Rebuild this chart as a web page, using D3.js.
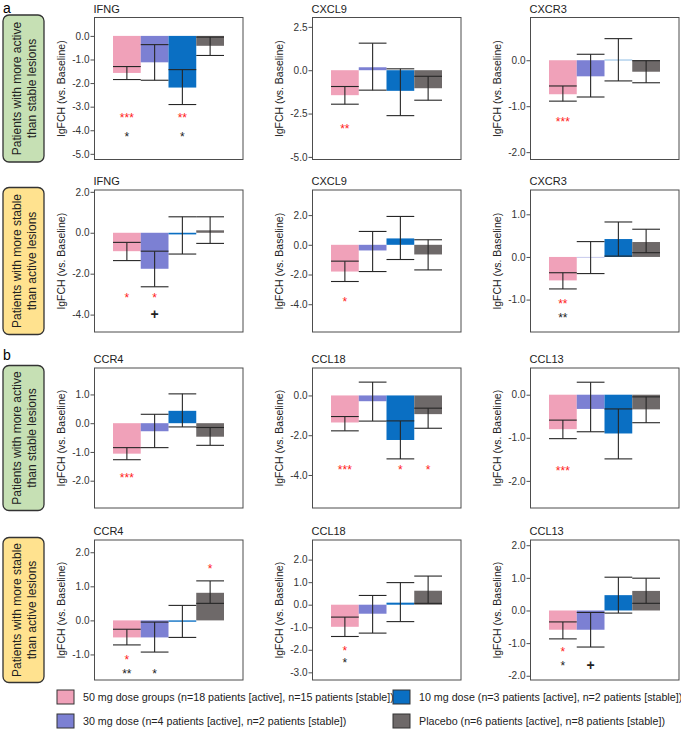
<!DOCTYPE html>
<html>
<head>
<meta charset="utf-8">
<script src="https://cdn.jsdelivr.net/npm/d3@7"></script>
<style>
  body { margin: 0; background: #fff; }
  text { font-family: Arial, "Liberation Sans", sans-serif; }
</style>
</head>
<body>
<svg id="chart" width="681" height="741"></svg>
<script>
// dose groups, in the order they are drawn inside each panel
const groups = ["50 mg", "30 mg", "10 mg", "Placebo"];
const groupColors = ["#f0a1b9", "#7c80d3", "#0a6fc3", "#6e6969"];
const legendLabels = [
    "50 mg dose groups (n=18 patients [active], n=15 patients [stable])",
    "30 mg dose (n=4 patients [active], n=2 patients [stable])",
    "10 mg dose (n=3 patients [active], n=2 patients [stable])",
    "Placebo (n=6 patients [active], n=8 patients [stable])"
];

// panels, row by row (3 per row)
const genes = ["IFNG", "CXCL9", "CXCR3",
               "IFNG", "CXCL9", "CXCR3",
               "CCR4", "CCL18", "CCL13",
               "CCR4", "CCL18", "CCL13"];
const rowLabels = [
    ["Patients with more active", "than stable lesions"],
    ["Patients with more stable", "than active lesions"],
    ["Patients with more active", "than stable lesions"],
    ["Patients with more stable", "than active lesions"]
];
const rowColors = ["#c6e0b4", "#ffe28f", "#c6e0b4", "#ffe28f"];

const yDomains = [
    [-5.24, 0.78], [-5.15, 3.04], [-2.16, 0.93],
    [-4.85, 2.09], [-5.87, 3.69], [-1.76, 1.57],
    [-2.95, 1.92], [-5.66, 1.38], [-2.63, 0.62],
    [-1.75, 2.36], [-3.34, 2.87], [-2.13, 2.16]
];
const yTicks = [
    [0, -1, -2, -3, -4, -5], [2.5, 0, -2.5, -5], [0, -1, -2],
    [2, 0, -2, -4], [2, 0, -2, -4], [1, 0, -1],
    [1, 0, -1, -2], [0, -2, -4], [0, -1, -2],
    [2, 1, 0, -1], [2, 1, 0, -1, -2, -3], [2, 1, 0, -1, -2]
];

// box height (from 0) for each group, per panel
const barValues = [
    [-1.57, -1.12, -2.19, -0.42], [-1.44, 0.17, -1.19, -1.04], [-0.74, -0.35, 0.01, -0.25],
    [-0.90, -1.76, -0.08, 0.12], [-1.80, -0.38, 0.43, -0.65], [-0.55, -0.01, 0.42, 0.35],
    [-1.06, -0.28, 0.43, -0.47], [-1.36, -0.29, -2.24, -0.94], [-0.80, -0.33, -0.90, -0.34],
    [-0.50, -0.50, -0.04, 0.81], [-0.98, -0.40, 0.09, 0.62], [-0.59, -0.59, 0.47, 0.60]
];
// interval drawn with a cap at each end
const errLow = [
    [-1.85, -1.88, -2.91, -0.83], [-1.96, -1.15, -2.62, -1.73], [-0.89, -0.80, -0.45, -0.49],
    [-1.36, -2.64, -1.04, -0.52], [-2.47, -1.80, -0.99, -1.69], [-0.75, -0.39, 0.02, 0.10],
    [-1.27, -0.85, -0.13, -0.77], [-1.78, -1.29, -3.19, -1.65], [-1.02, -0.86, -1.49, -0.65],
    [-0.72, -0.93, -0.50, 0.50], [-1.41, -1.26, -0.75, 0.06], [-0.87, -1.12, -0.08, 0.22]
];
const errHigh = [
    [-1.30, -0.37, -1.43, -0.05], [-0.94, 1.56, 0.08, -0.35], [-0.56, 0.13, 0.47, -0.01],
    [-0.47, -0.90, 0.78, 0.78], [-1.10, 0.90, 1.91, 0.34], [-0.37, 0.36, 0.82, 0.65],
    [-0.85, 0.31, 1.02, -0.15], [-1.06, 0.67, -1.28, -0.64], [-0.59, 0.29, -0.33, -0.05],
    [-0.26, -0.05, 0.44, 1.16], [-0.55, 0.41, 0.98, 1.27], [-0.35, -0.06, 1.02, 0.99]
];

// significance marks: [panel, group, value, symbol, colour]
const marks = [
    [0, 0, -3.40, "***", "red"], [0, 0, -4.21, "*", "black"],
    [0, 2, -3.40, "**", "red"], [0, 2, -4.21, "*", "black"],
    [1, 0, -3.30, "**", "red"],
    [2, 0, -1.29, "***", "red"],
    [3, 0, -3.10, "*", "red"], [3, 1, -3.10, "*", "red"], [3, 1, -4.00, "+", "black"],
    [4, 0, -3.69, "*", "red"],
    [5, 0, -1.05, "**", "red"], [5, 0, -1.38, "**", "black"],
    [6, 0, -1.83, "***", "red"],
    [7, 0, -3.66, "***", "red"], [7, 2, -3.66, "*", "red"], [7, 3, -3.66, "*", "red"],
    [8, 0, -1.73, "***", "red"],
    [9, 0, -1.09, "*", "red"], [9, 0, -1.52, "**", "black"], [9, 1, -1.52, "*", "black"],
    [9, 3, 1.58, "*", "red"],
    [10, 0, -1.95, "*", "red"], [10, 0, -2.51, "*", "black"],
    [11, 0, -1.22, "*", "red"], [11, 0, -1.65, "*", "black"], [11, 1, -1.69, "+", "black"]
];

// layout
const colX = [94.5, 312.5, 530.5];
const rowY = [17.5, 190, 368, 540];
const rowH = [142, 142, 140, 140];
const pWidth = 148.5;

const svg = d3.select("#chart");
const fmt = function(v) { return v.toFixed(1).replace("\u2212", "-"); };

const xScale = d3.scaleBand().domain(groups).range([18.5, 129.5]).padding(0);

// section letters
svg.append("text").attr("x", 3).attr("y", 13).attr("font-size", 14).text("a");
svg.append("text").attr("x", 3).attr("y", 360).attr("font-size", 14).text("b");

// row label boxes
rowLabels.forEach(function(lines, r) {
    let g = svg.append("g");
    g.append("rect")
        .attr("x", 3).attr("y", rowY[r] - 2.5)
        .attr("width", 41).attr("height", rowH[r] + 5)
        .attr("rx", 6).attr("ry", 6)
        .attr("fill", rowColors[r])
        .attr("stroke", "#333").attr("stroke-width", 1.3);
    let cx = 23.5, cy = rowY[r] + rowH[r] / 2;
    g.append("text")
        .attr("transform", "translate(" + cx + "," + cy + ") rotate(-90)")
        .attr("text-anchor", "middle")
        .attr("font-size", 12)
        .attr("fill", "#222")
        .selectAll("tspan")
        .data(lines)
        .enter()
        .append("tspan")
        .attr("x", 0)
        .attr("y", function(d, i) { return i === 0 ? -3 : 12; })
        .text(function(d) { return d; });
});

genes.forEach(function(gene, p) {
    let r = Math.floor(p / 3), c = p % 3;
    let h = rowH[r];
    let y = d3.scaleLinear().domain(yDomains[p]).range([h, 0]);
    let g = svg.append("g").attr("transform", "translate(" + colX[c] + "," + rowY[r] + ")");

    // title
    g.append("text")
        .attr("x", -1).attr("y", -5)
        .attr("font-size", 11)
        .attr("fill", "#222")
        .text(gene);

    // boxes
    g.selectAll("rect.bar")
        .data(barValues[p])
        .enter()
        .append("rect")
        .attr("class", "bar")
        .attr("x", function(d, i) { return xScale(groups[i]); })
        .attr("width", xScale.bandwidth())
        .attr("y", function(d) { return Math.min(y(d), y(0)); })
        .attr("height", function(d) { return Math.abs(y(d) - y(0)); })
        .attr("fill", function(d, i) { return groupColors[i]; });

    // intervals
    let err = g.selectAll("g.err")
        .data(groups)
        .enter()
        .append("g")
        .attr("class", "err")
        .attr("stroke", "#262626")
        .attr("stroke-width", 1.1);
    err.append("line")
        .attr("x1", function(d) { return xScale(d) + xScale.bandwidth() / 2; })
        .attr("x2", function(d) { return xScale(d) + xScale.bandwidth() / 2; })
        .attr("y1", function(d, i) { return y(errLow[p][i]); })
        .attr("y2", function(d, i) { return y(errHigh[p][i]); });
    [errLow, errHigh].forEach(function(arr) {
        err.append("line")
            .attr("x1", function(d) { return xScale(d); })
            .attr("x2", function(d) { return xScale(d) + xScale.bandwidth(); })
            .attr("y1", function(d, i) { return y(arr[p][i]); })
            .attr("y2", function(d, i) { return y(arr[p][i]); });
    });

    // frame
    g.append("rect")
        .attr("width", pWidth).attr("height", h)
        .attr("fill", "none")
        .attr("stroke", "#4d4d4d")
        .attr("stroke-width", 1);

    // y axis
    let axis = g.append("g")
        .call(d3.axisLeft(y).tickValues(yTicks[p]).tickSize(4).tickFormat(fmt));
    axis.select(".domain").remove();
    axis.selectAll("line").attr("stroke", "#4d4d4d");
    axis.selectAll("text")
        .attr("font-family", "Arial, 'Liberation Sans', sans-serif")
        .attr("font-size", 10)
        .attr("fill", "#333")
        .attr("x", -5);

    g.append("text")
        .attr("transform", "translate(-30," + (h / 2) + ") rotate(-90)")
        .attr("text-anchor", "middle")
        .attr("font-size", 10.5)
        .attr("fill", "#222")
        .text("lgFCH (vs. Baseline)");

    // significance marks
    g.selectAll("text.mark")
        .data(marks.filter(function(m) { return m[0] === p; }))
        .enter()
        .append("text")
        .attr("class", "mark")
        .attr("x", function(m) { return xScale(groups[m[1]]) + xScale.bandwidth() / 2; })
        .attr("y", function(m) { return y(m[2]) + (m[3] === "+" ? 4.5 : 6); })
        .attr("text-anchor", "middle")
        .attr("font-size", function(m) { return m[3] === "+" ? 14 : 12; })
        .attr("font-weight", function(m) { return m[3] === "+" ? "bold" : "normal"; })
        .attr("fill", function(m) { return m[4] === "red" ? "#ff2020" : "#222"; })
        .text(function(m) { return m[3]; });
});

// legend: 50 mg and 30 mg on the left, 10 mg and placebo on the right
const legendPos = [[57, 697], [57, 721], [393, 697], [393, 721]];
let legend = svg.append("g").selectAll("g")
    .data(legendLabels)
    .enter()
    .append("g")
    .attr("transform", function(d, i) { return "translate(" + legendPos[i][0] + "," + legendPos[i][1] + ")"; });
legend.append("rect")
    .attr("x", 0).attr("y", -7)
    .attr("width", 17).attr("height", 14)
    .attr("fill", function(d, i) { return groupColors[i]; })
    .attr("stroke", "#333").attr("stroke-width", 1);
legend.append("text")
    .attr("x", 26).attr("y", 4)
    .attr("font-size", 10.7)
    .attr("fill", "#222")
    .text(function(d) { return d; });
</script>
</body>
</html>
